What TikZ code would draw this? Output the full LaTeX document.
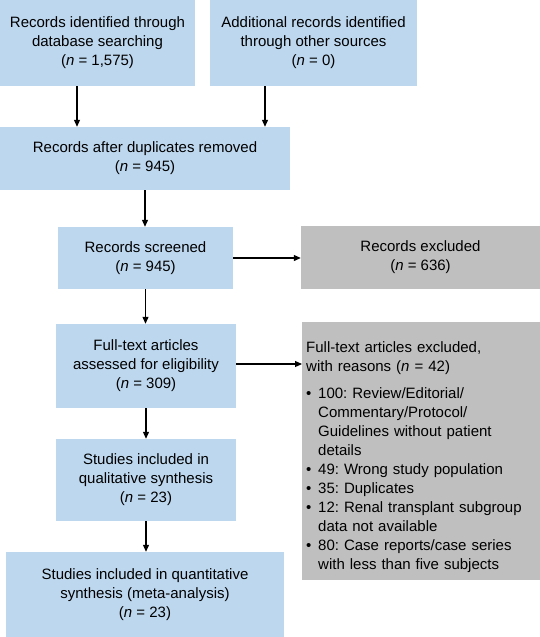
\documentclass[tikz,border=0pt]{standalone}
\usepackage{fontspec}
\setmainfont{Liberation Sans}
\usetikzlibrary{arrows.meta,positioning}
\definecolor{boxblue}{RGB}{189,215,238}
\definecolor{boxgrey}{RGB}{191,191,191}
\newcommand{\nn}{\textit{n}}
\newcommand{\bul}{\makebox[12pt][l]{\textbullet}}
\newcommand{\hng}{\hspace*{12pt}}
\frenchspacing

\begin{document}
\begin{tikzpicture}[x=1pt, y=-1pt, font=\fontsize{15}{19}\selectfont,
  box/.style={fill=boxblue, inner sep=0pt, align=center},
  greybox/.style={fill=boxgrey, inner sep=0pt},
  arr/.style={-{Triangle[length=7pt,width=6pt]}, line width=1.1pt}]
\useasboundingbox (0,0) rectangle (540,637);
%% identification
\node[box, minimum width=195pt, minimum height=86pt] (db) at (97.5,43)
  {Records identified through\\database searching\\(\nn{} = 1,575)};
\node[box, minimum width=207pt, minimum height=86pt] (other) at (313.5,43)
  {Additional records identified\\through other sources\\(\nn{} = 0)};
\node[box, minimum width=290pt, minimum height=63pt] (dedup) at (145,158.5)
  {Records after duplicates removed\\(\nn{} = 945)};
%% screening
\node[box, minimum width=175pt, minimum height=62pt] (screened) at (145.5,258)
  {Records screened\\(\nn{} = 945)};
\node[greybox, align=center, minimum width=239pt, minimum height=63pt] (excluded) at (420.5,257.5)
  {Records excluded\\(\nn{} = 636)};
%% eligibility
\node[box, minimum width=180pt, minimum height=84pt] (fulltext) at (146,366)
  {Full-text articles\\assessed for eligibility\\(\nn{} = 309)};
\node[greybox, anchor=north west, align=left, text width=230pt, inner xsep=4pt,
  minimum width=238pt, minimum height=258pt] (ftexcl) at (302,322)
  {\rule{0pt}{23pt}Full-text articles excluded,\\
   with reasons (\nn{} = 42)\\[8pt]
   \bul 100: Review/Editorial/\\
   \hng Commentary/Protocol/\\
   \hng Guidelines without patient\\
   \hng details\\
   \bul 49: Wrong study population\\
   \bul 35: Duplicates\\
   \bul 12: Renal transplant subgroup\\
   \hng data not available\\
   \bul 80: Case reports/case series\\
   \hng with less than five subjects};
%% included
\node[box, minimum width=180pt, minimum height=82pt] (qual) at (146,480)
  {Studies included in\\qualitative synthesis\\(\nn{} = 23)};
\node[box, minimum width=278pt, minimum height=85pt] (quant) at (145,594.5)
  {Studies included in quantitative\\synthesis (meta-analysis)\\(\nn{} = 23)};
%% arrows
\draw[arr] ([xshift=-20.5pt]db.south) -- ([xshift=-20.5pt]db.south |- dedup.north);
\draw[arr] ([xshift=-48.5pt]other.south) -- ([xshift=-48.5pt]other.south |- dedup.north);
\draw[arr] (dedup.south) -- (dedup.south |- screened.north);
\draw[arr] (screened.east) -- (screened.east -| excluded.west);
\draw[arr] (screened.south) -- (screened.south |- fulltext.north);
\draw[arr] ([yshift=2pt]fulltext.east) -- ([yshift=2pt]fulltext.east -| ftexcl.west);
\draw[arr] (fulltext.south) -- (fulltext.south |- qual.north);
\draw[arr] (qual.south) -- (qual.south |- quant.north);
\end{tikzpicture}
\end{document}
